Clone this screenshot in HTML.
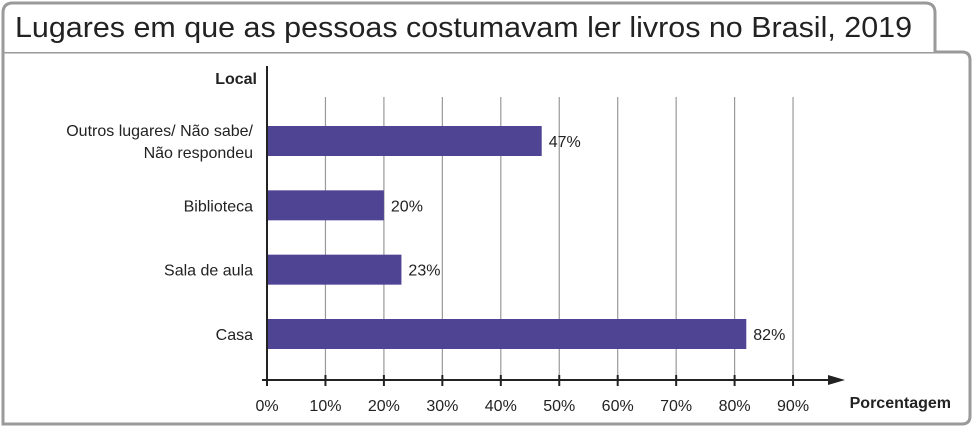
<!DOCTYPE html>
<html><head><meta charset="utf-8"><style>
body{margin:0;background:#fff;font-family:"Liberation Sans","DejaVu Sans",sans-serif}
svg text{font-family:"Liberation Sans","DejaVu Sans",sans-serif}
</style></head><body>
<svg width="973" height="427" viewBox="0 0 973 427">
<path d="M3,52 L3,424 L962,424 Q970,424 970,416 L970,60 Q970,52 962,52 Z" fill="#fff" stroke="#9a9a9a" stroke-width="3"/>
<path d="M3,52 L3,13 Q3,3 13,3 L925,3 Q935,3 935,13 L935,52" fill="#fff" stroke="#9a9a9a" stroke-width="3"/>
<text x="15" y="37" font-size="29" fill="#222" textLength="897" lengthAdjust="spacingAndGlyphs">Lugares em que as pessoas costumavam ler livros no Brasil, 2019</text>
<g id="grid"></g><g id="bars"></g><g id="axes"></g>
<text x="257" y="84" font-size="16" font-weight="bold" text-anchor="end" fill="#222">Local</text>
<text x="951" y="408" font-size="16" font-weight="bold" text-anchor="end" fill="#222">Porcentagem</text>
</svg>
<script>
const categories=[["Outros lugares/ Não sabe/","Não respondeu"],["Biblioteca"],["Sala de aula"],["Casa"]];
const values=[47,20,23,82];
const ticks=[0,10,20,30,40,50,60,70,80,90];
const ns="http://www.w3.org/2000/svg";
const x=v=>267+v*5.845;
const rowY=[141,206,270,334];
const y=i=>rowY[0]+i*((rowY[3]-rowY[0])/3);
function mk(t,a,p){const e=document.createElementNS(ns,t);for(const k in a)e.setAttribute(k,a[k]);document.getElementById(p).appendChild(e);return e;}
ticks.forEach(t=>{
 if(t>0){const l=mk('line',{x1:x(t),x2:x(t),y1:97,y2:380,stroke:'#999','stroke-width':1.2},'grid');
 
 }
 const tk=mk('line',{x1:x(t),x2:x(t),y1:375,y2:386,stroke:'#222','stroke-width':2},'axes');
 
 
 const tl=mk('text',{x:x(t),y:411,'font-size':16,'text-anchor':'middle',fill:'#222'},'axes');tl.textContent=t+'%';
 
 
});
const ax=mk('line',{x1:262,x2:830,y1:380,y2:380,stroke:'#222','stroke-width':2},'axes');


const ar=mk('polygon',{points:'828,375 845,380 828,385',fill:'#222'},'axes');


const ay=mk('line',{x1:267,x2:267,y1:66,y2:380,stroke:'#222','stroke-width':2},'axes');


values.forEach((v,i)=>{
 const cy=y(i);
 const b=mk('rect',{x:x(0),y:cy-15,width:x(v)-x(0),height:30,fill:'#4f4494'},'bars');
 
 
 const vl=mk('text',{x:x(v)+7,y:cy+6,'font-size':16,fill:'#222'},'bars');vl.textContent=v+'%';
 
 
 const lines=categories[i];
 lines.forEach((s,j)=>{
  const ty=cy+6+(j-(lines.length-1)/2)*22;
  const c=mk('text',{x:253,y:ty,'font-size':16,'text-anchor':'end',fill:'#222'},'bars');c.textContent=s;
  
  
 });
});
</script>
</body></html>
